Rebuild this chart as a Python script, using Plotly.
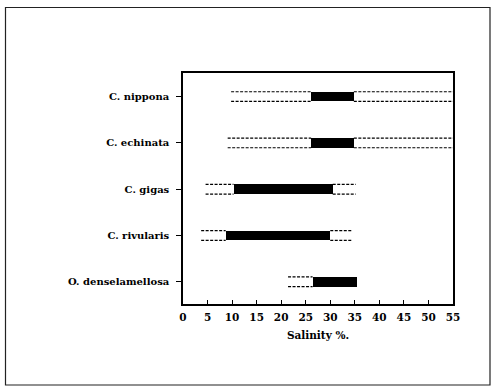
import plotly.graph_objects as go

species = ["C. nippona", "C. echinata", "C. gigas", "C. rivularis", "O. denselamellosa"]
tol_min = [9.8, 9.1, 4.6, 3.7, 21.4]
tol_max = [55, 55, 35.2, 34.5, 35.4]
opt_min = [26.1, 26.1, 10.3, 8.7, 26.4]
opt_max = [34.8, 34.8, 30.5, 30.0, 35.4]
x_ticks = list(range(0, 56, 5))

n = len(species)
pos = [n - 1 - i for i in range(n)]
half = 0.105

fig = go.Figure()

lx, ly = [], []
for p, a, b, c, d in zip(pos, tol_min, tol_max, opt_min, opt_max):
    for off in (half, -half):
        for s, e in ((a, c), (d, b)):
            if e > s:
                lx += [s, e, None]
                ly += [p + off, p + off, None]
fig.add_trace(go.Scatter(x=lx, y=ly, mode="lines",
                         line=dict(color="black", width=1.2, dash="3px,1.5px"),
                         hoverinfo="skip", showlegend=False))

fig.add_trace(go.Bar(y=pos, x=[b - a for a, b in zip(opt_min, opt_max)], base=opt_min,
                     orientation="h", width=2 * half,
                     marker=dict(color="black", line=dict(color="black", width=0)),
                     showlegend=False))

W, H = 500, 390
L, R, T, B = 183, 47, 73, 86
pw, ph = W - L - R, H - T - B

def px_to_paper_x(px):
    return (px - L) / pw

def px_to_paper_y(py):
    return (H - B - py) / ph

fig.add_shape(type="rect", xref="paper", yref="paper",
              x0=px_to_paper_x(5.5), x1=px_to_paper_x(490),
              y0=px_to_paper_y(385), y1=px_to_paper_y(7.5),
              line=dict(color="#222", width=1.2), layer="below")

font_family = "DejaVu Serif, Liberation Serif, serif"
fig.update_layout(
    width=W, height=H,
    margin=dict(l=L, r=R, t=T, b=B),
    paper_bgcolor="white", plot_bgcolor="white",
    font=dict(family=font_family, color="black", size=10),
    xaxis=dict(range=[0, 55], tickvals=x_ticks, ticks="inside", ticklen=4,
               tickcolor="black", showline=True, mirror=True, linecolor="black",
               linewidth=1.5, showgrid=False, zeroline=False,
               ticklabelstandoff=3,
               tickfont=dict(size=10.5, family=font_family, weight="bold"),
               title=dict(text="Salinity %.", font=dict(size=10.5, family=font_family, weight="bold"),
                          standoff=9)),
    yaxis=dict(range=[-0.48, 4.51], tickvals=pos, ticktext=species, ticks="outside",
               ticklen=5, tickcolor="black", showline=True, mirror=True,
               linecolor="black", linewidth=1.5, showgrid=False, zeroline=False,
               ticklabelstandoff=5,
               tickfont=dict(size=10, family=font_family, weight="bold")),
    bargap=0,
)

fig.write_html("out.html", config={"displayModeBar": False},
               post_script="document.body.style.margin='0';document.body.style.overflow='hidden';")
